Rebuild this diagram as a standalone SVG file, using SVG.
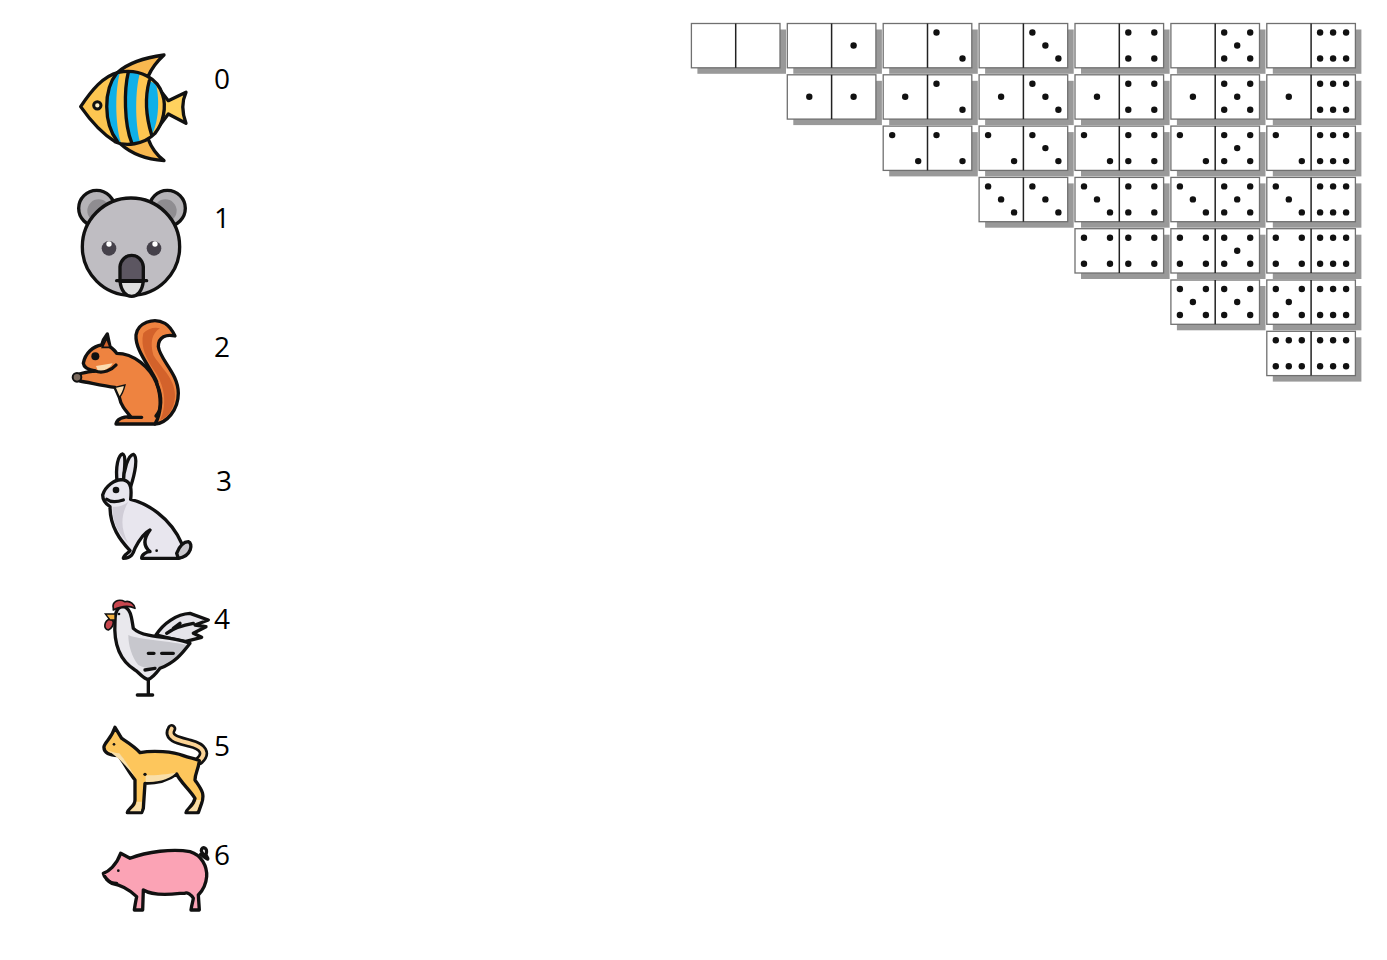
<svg xmlns="http://www.w3.org/2000/svg" xmlns:xlink="http://www.w3.org/1999/xlink" width="1387" height="960" viewBox="0 0 1387 960">
<style>
.lab{font-family:"Open Sans","Liberation Sans",sans-serif;font-size:28px;fill:#000}
.o{stroke:#111;stroke-width:10;stroke-linejoin:round;stroke-linecap:round}
.l{fill:none;stroke:#111;stroke-width:10;stroke-linejoin:round;stroke-linecap:round}
.sh{fill:#999}
.fc{fill:#fff;stroke:#707070;stroke-width:1.3}
.dv{stroke:#222;stroke-width:1.5}
.p{fill:#111}
</style>
<defs>
<circle id="a" class="p" cx="9" cy="9" r="3.2"/><circle id="b" class="p" cx="35" cy="9" r="3.2"/>
<circle id="c" class="p" cx="9" cy="35" r="3.2"/><circle id="e" class="p" cx="35" cy="35" r="3.2"/>
<circle id="m" class="p" cx="22" cy="22" r="3.2"/><circle id="t" class="p" cx="22" cy="9" r="3.2"/><circle id="u" class="p" cx="22" cy="35" r="3.2"/>
<g id="f1"><use href="#m"/></g>
<g id="f2"><use href="#a"/><use href="#e"/></g>
<g id="f3"><use href="#a"/><use href="#m"/><use href="#e"/></g>
<g id="f4"><use href="#a"/><use href="#b"/><use href="#c"/><use href="#e"/></g>
<g id="f5"><use href="#f4"/><use href="#m"/></g>
<g id="f6"><use href="#f4"/><use href="#t"/><use href="#u"/></g>
<g id="base"><rect class="sh" x="6" y="6" width="88.6" height="44.3"/><rect class="fc" width="88.6" height="44.3"/><line class="dv" x1="44.3" y1="0" x2="44.3" y2="44.3"/></g>
</defs>
<rect width="1387" height="960" fill="#fff"/>

<g id="fish" transform="translate(60 40) scale(.3333)">
<path class="o" fill="#f9b84f" d="M172,98C205,68 260,52 312,45C290,65 275,85 265,108Z"/>
<path class="o" fill="#f9b84f" d="M182,312C215,342 260,358 312,362C290,345 275,325 265,298Z"/>
<path class="o" fill="#ffd25e" d="M300,150L325,182L378,157C365,185 365,215 378,250L325,222L295,262Z"/>
<path fill="#fdc651" d="M62,200C95,150 130,108 175,97C240,85 295,115 308,165C320,200 310,250 285,280C250,315 195,320 165,305C125,280 90,240 62,200Z"/>
<path fill="#10b0e8" d="M170,100C130,150 130,250 172,304L182,306C165,250 165,150 180,97Z"/>
<path fill="#10b0e8" d="M205,96C190,150 190,250 215,308L240,305C225,250 225,150 240,98Z"/>
<path fill="#10b0e8" d="M268,122C255,170 258,230 275,285C295,250 300,180 288,133Z"/>
<path class="l" d="M170,100C130,150 130,250 172,304M205,96C192,150 192,250 215,308M268,122C255,170 258,230 275,285"/>
<path class="o" fill="none" d="M62,200C95,150 130,108 175,97C240,85 295,115 308,165C320,200 310,250 285,280C250,315 195,320 165,305C125,280 90,240 62,200Z"/>
<circle cx="112" cy="196" r="11" fill="#fdf0c8" stroke="#111" stroke-width="9"/>
</g>

<g id="koala" transform="translate(60 40) scale(.3333)">
<circle class="o" cx="110" cy="505" r="54" fill="#b5b3b7"/><circle cx="116" cy="512" r="34" fill="#8f8d91"/>
<circle class="o" cx="322" cy="505" r="54" fill="#b5b3b7"/><circle cx="316" cy="512" r="34" fill="#8f8d91"/>
<circle class="o" cx="213" cy="620" r="146" fill="#bfbdc2"/>
<circle cx="147" cy="625" r="22" fill="#45414a"/><circle cx="147" cy="612" r="8" fill="#fff"/>
<circle cx="282" cy="625" r="22" fill="#45414a"/><circle cx="285" cy="612" r="8" fill="#fff"/>
<path class="o" fill="#dedede" d="M180,722C185,785 245,785 250,722Z"/>
<path class="o" fill="#5c5661" d="M180,724V680C185,635 245,635 250,680V724Z"/>
<path class="l" d="M170,722H260"/>
</g>

<g id="squirrel" transform="translate(60 310) scale(.3333)">
<path class="o" fill="#ee8340" d="M290,215C270,170 225,120 228,75C232,40 280,20 315,40C332,50 345,78 345,78C320,72 295,80 295,110C300,150 355,190 355,250C355,300 320,340 285,342Z"/>
<path fill="#d3622b" d="M250,70C262,55 285,50 300,55C275,70 270,100 280,135C300,170 345,205 345,255C345,290 325,325 300,330C325,280 310,220 285,185C260,150 240,110 250,70Z"/>
<path class="o" fill="#ee8340" d="M70,160C75,130 100,108 125,105L130,90L142,72L150,110C165,122 170,130 170,130C220,130 270,170 290,220C305,260 305,310 285,342H168C172,325 190,320 212,320C195,300 182,285 178,262L165,232C130,228 90,218 60,213L58,192C75,186 90,185 105,183C85,180 72,175 70,160Z"/>
<path fill="#d3622b" stroke="#111" stroke-width="5" d="M127,112L140,85L150,112Z"/>
<path fill="#fbdcb0" d="M108,168L158,160C150,175 130,185 115,185Z"/>
<path fill="#fbdcb0" stroke="#111" stroke-width="4" d="M165,232L195,225C190,245 185,255 178,262Z"/>
<path class="l" d="M105,183C130,192 155,180 168,165M290,220C308,260 305,300 288,318M205,322H245"/>
<circle cx="106" cy="139" r="12" fill="#111"/>
<circle cx="51" cy="202" r="13" fill="#7a6a5e" stroke="#111" stroke-width="6"/>
</g>

<g id="rabbit" transform="translate(60 310) scale(.3333)">
<path class="o" fill="#e8e6ee" d="M172,520C165,470 175,435 188,432C198,435 195,470 190,515Z"/>
<path class="o" fill="#e8e6ee" d="M190,520C190,480 205,435 220,433C235,440 225,490 212,530Z"/>
<path class="o" fill="#e8e6ee" d="M128,555C135,530 165,505 190,510C215,515 215,540 212,568C260,580 330,620 365,700C372,720 375,742 355,745H245C245,732 262,725 270,725C245,705 255,680 270,660C250,670 235,695 225,715C220,730 215,745 190,745C190,735 205,730 210,722C180,690 150,650 150,590C135,580 128,570 128,555Z"/>
<path fill="#d0cdd7" d="M158,590C185,590 190,585 205,575C185,610 178,650 205,700C175,670 155,635 158,590Z"/>
<path class="o" fill="#c9c7cc" d="M355,745C395,740 400,700 385,695C370,695 360,705 350,730Z"/>
<path class="l" d="M140,568C155,580 175,575 190,570"/>
<circle cx="168" cy="540" r="10" fill="#111"/><circle cx="290" cy="722" r="4" fill="#111"/>
</g>

<g id="rooster" transform="translate(80 590) scale(.3333)">
<path class="o" fill="#e6e4ea" d="M228,135C250,100 290,72 330,70L385,90L345,105L378,110L340,130L365,142L315,155L270,145Z"/>
<path class="l" d="M280,115L300,100M260,130C280,115 310,105 340,100"/>
<path fill="#e9e8ed" d="M105,95C105,60 115,50 130,50C155,55 155,90 160,115C180,135 225,140 270,145C300,150 320,155 330,160C310,185 290,215 240,235C225,255 215,265 205,268C190,268 175,245 165,240C125,215 100,170 105,95Z"/>
<path fill="#c7c7cd" d="M145,135C180,150 250,150 320,165C305,190 280,210 240,230C220,240 195,235 175,225C155,200 145,165 145,135Z"/>
<path class="o" fill="none" d="M105,95C105,60 115,50 130,50C155,55 155,90 160,115C180,135 225,140 270,145C300,150 320,155 330,160C310,185 290,215 240,235C225,255 215,265 205,268C190,268 175,245 165,240C125,215 100,170 105,95Z"/>
<path class="l" d="M245,190H280M205,190H222M195,240L225,235"/>
<path stroke="#111" stroke-width="5" stroke-linejoin="round" fill="#c8474f" d="M100,55C95,35 115,25 135,35C150,30 165,45 165,55C145,45 120,50 100,60Z"/>
<path stroke="#111" stroke-width="5" stroke-linejoin="round" fill="#c8474f" d="M92,85C70,95 70,115 85,120C95,115 100,105 100,95Z"/>
<path fill="#f4b13f" stroke="#111" stroke-width="4" d="M76,72H105V90H90Z"/>
<circle cx="117" cy="72" r="4" fill="#111"/>
<path class="l" d="M205,268V315M172,315H218"/>
</g>

<g id="cat" transform="translate(80 590) scale(.3333)">
<path fill="none" stroke="#111" stroke-width="28" stroke-linecap="round" d="M275,416C258,445 300,452 330,460C370,470 382,490 358,512"/>
<path fill="none" stroke="#fbd395" stroke-width="12" stroke-linecap="round" d="M275,416C258,445 300,452 330,460C370,470 382,490 358,512"/>
<path class="o" fill="#fdc65c" d="M105,412L125,445C140,455 165,470 180,488C220,480 280,485 310,497C330,505 345,505 358,512C355,540 345,550 345,570C365,600 375,610 365,640L355,668H318C320,655 340,650 345,625C330,600 300,575 290,552C260,575 225,580 195,580L190,655L185,668H142C145,655 165,650 165,630L165,570C145,545 125,505 115,497C90,495 70,490 72,470C75,455 95,445 105,412Z"/>
<path fill="#f9dfa9" d="M197,556C230,556 265,552 288,548C265,572 225,576 197,576ZM170,635H185L183,664H150C155,655 170,650 170,635ZM350,630H362L350,664H325C330,655 345,650 350,630ZM80,480C95,485 105,490 118,490C135,510 150,535 165,560C140,530 115,500 80,480Z"/>
<circle cx="195" cy="553" r="5" fill="#111"/><circle cx="102" cy="463" r="4" fill="#111"/>
</g>

<g id="pig" transform="translate(80 590) scale(.3333)">
<path class="l" d="M362,793C385,812 388,812 378,795C385,770 365,768 364,782C366,790 372,795 378,795"/>
<path class="o" fill="#fba3b5" d="M122,790L150,805C200,785 280,775 330,785C365,795 382,830 380,860C378,885 365,905 355,915L358,960H333C335,945 340,930 340,925C335,915 320,905 315,910H300C260,915 215,915 190,900L188,960H163C165,945 168,930 170,920C150,900 125,885 95,880C85,875 72,860 70,850C85,845 110,825 122,790Z"/>
<path class="l" d="M80,868C90,878 100,880 110,880"/>
<circle cx="115" cy="842" r="4" fill="#111"/>
</g>

<g id="labels">
<text class="lab" x="214" y="89">0</text>
<text class="lab" x="214" y="228">1</text>
<text class="lab" x="214" y="357">2</text>
<text class="lab" x="216" y="491">3</text>
<text class="lab" x="214" y="629">4</text>
<text class="lab" x="214" y="756">5</text>
<text class="lab" x="214" y="865">6</text>
</g>

<g id="dominoes">
<g id="d00" transform="translate(691.4 23.5)"><use href="#base"/></g>
<g id="d01" transform="translate(787.3 23.5)"><use href="#base"/><use href="#f1" x="44.3"/></g>
<g id="d02" transform="translate(883.2 23.5)"><use href="#base"/><use href="#f2" x="44.3"/></g>
<g id="d03" transform="translate(979.1 23.5)"><use href="#base"/><use href="#f3" x="44.3"/></g>
<g id="d04" transform="translate(1075 23.5)"><use href="#base"/><use href="#f4" x="44.3"/></g>
<g id="d05" transform="translate(1170.9 23.5)"><use href="#base"/><use href="#f5" x="44.3"/></g>
<g id="d06" transform="translate(1266.8 23.5)"><use href="#base"/><use href="#f6" x="44.3"/></g>
<g id="d11" transform="translate(787.3 74.8)"><use href="#base"/><use href="#f1"/><use href="#f1" x="44.3"/></g>
<g id="d12" transform="translate(883.2 74.8)"><use href="#base"/><use href="#f1"/><use href="#f2" x="44.3"/></g>
<g id="d13" transform="translate(979.1 74.8)"><use href="#base"/><use href="#f1"/><use href="#f3" x="44.3"/></g>
<g id="d14" transform="translate(1075 74.8)"><use href="#base"/><use href="#f1"/><use href="#f4" x="44.3"/></g>
<g id="d15" transform="translate(1170.9 74.8)"><use href="#base"/><use href="#f1"/><use href="#f5" x="44.3"/></g>
<g id="d16" transform="translate(1266.8 74.8)"><use href="#base"/><use href="#f1"/><use href="#f6" x="44.3"/></g>
<g id="d22" transform="translate(883.2 126.1)"><use href="#base"/><use href="#f2"/><use href="#f2" x="44.3"/></g>
<g id="d23" transform="translate(979.1 126.1)"><use href="#base"/><use href="#f2"/><use href="#f3" x="44.3"/></g>
<g id="d24" transform="translate(1075 126.1)"><use href="#base"/><use href="#f2"/><use href="#f4" x="44.3"/></g>
<g id="d25" transform="translate(1170.9 126.1)"><use href="#base"/><use href="#f2"/><use href="#f5" x="44.3"/></g>
<g id="d26" transform="translate(1266.8 126.1)"><use href="#base"/><use href="#f2"/><use href="#f6" x="44.3"/></g>
<g id="d33" transform="translate(979.1 177.4)"><use href="#base"/><use href="#f3"/><use href="#f3" x="44.3"/></g>
<g id="d34" transform="translate(1075 177.4)"><use href="#base"/><use href="#f3"/><use href="#f4" x="44.3"/></g>
<g id="d35" transform="translate(1170.9 177.4)"><use href="#base"/><use href="#f3"/><use href="#f5" x="44.3"/></g>
<g id="d36" transform="translate(1266.8 177.4)"><use href="#base"/><use href="#f3"/><use href="#f6" x="44.3"/></g>
<g id="d44" transform="translate(1075 228.7)"><use href="#base"/><use href="#f4"/><use href="#f4" x="44.3"/></g>
<g id="d45" transform="translate(1170.9 228.7)"><use href="#base"/><use href="#f4"/><use href="#f5" x="44.3"/></g>
<g id="d46" transform="translate(1266.8 228.7)"><use href="#base"/><use href="#f4"/><use href="#f6" x="44.3"/></g>
<g id="d55" transform="translate(1170.9 280)"><use href="#base"/><use href="#f5"/><use href="#f5" x="44.3"/></g>
<g id="d56" transform="translate(1266.8 280)"><use href="#base"/><use href="#f5"/><use href="#f6" x="44.3"/></g>
<g id="d66" transform="translate(1266.8 331.3)"><use href="#base"/><use href="#f6"/><use href="#f6" x="44.3"/></g>
</g>
</svg>
